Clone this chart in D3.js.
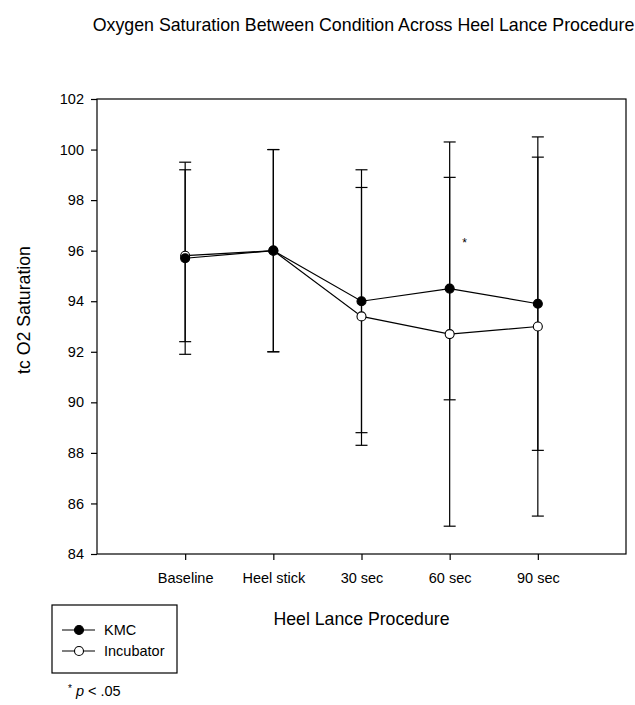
<!DOCTYPE html>
<html><head><meta charset="utf-8">
<script src="https://cdn.jsdelivr.net/npm/d3@7"></script>
<style>
body{margin:0;background:#fff;}
svg text{font-family:"Liberation Sans",Arial,sans-serif;fill:#000;}
</style></head>
<body><svg id="c" width="635" height="705"></svg>
<script>
const categories = ["Baseline","Heel stick","30 sec","60 sec","90 sec"];
const kmcMean = [95.7, 96.0, 94.0, 94.5, 93.9];
const kmcSD   = [3.8, 4.0, 5.2, 4.4, 5.8];
const incMean = [95.8, 96.0, 93.4, 92.7, 93.0];
const incSD   = [3.4, 4.0, 5.1, 7.6, 7.5];
const yTicks = [84,86,88,90,92,94,96,98,100,102];
const sigCategory = "60 sec";

const svg = d3.select("#c");
const L=97, R=626, T=99, B=554;
const x = d3.scalePoint().domain(categories).range([L,R]).padding(1);
const y = d3.scaleLinear().domain([84,102]).range([B,T]);

svg.append("rect").attr("x",L).attr("y",T).attr("width",R-L).attr("height",B-T)
  .attr("fill","none").attr("stroke","#000").attr("stroke-width",1.2);

const yAx = svg.append("g").attr("transform",`translate(${L},0)`)
  .call(d3.axisLeft(y).tickValues(yTicks).tickSize(6).tickPadding(7).tickFormat(d3.format("d")));
yAx.select(".domain").remove();
yAx.selectAll("text").attr("font-size",14.5).attr("font-family","Liberation Sans");
yAx.selectAll("line").attr("stroke-width",1.2);

const xAx = svg.append("g").attr("transform",`translate(0,${B})`)
  .call(d3.axisBottom(x).tickSize(6).tickPadding(13));
xAx.select(".domain").remove();
xAx.selectAll("text").attr("font-size",14.5).attr("font-family","Liberation Sans");
xAx.selectAll("line").attr("stroke-width",1.2);

const series = [
  {name:"KMC", mean:kmcMean, sd:kmcSD, fill:"#000"},
  {name:"Incubator", mean:incMean, sd:incSD, fill:"#fff"}
];
const cap = 6;
series.forEach(s=>{
  const g = svg.append("g");
  categories.forEach((c,i)=>{
    const hi=y(s.mean[i]+s.sd[i]), lo=y(s.mean[i]-s.sd[i]), cx=x(c);
    g.append("line").attr("x1",cx).attr("x2",cx).attr("y1",hi).attr("y2",lo).attr("stroke","#000").attr("stroke-width",1.2);
    g.append("line").attr("x1",cx-cap).attr("x2",cx+cap).attr("y1",hi).attr("y2",hi).attr("stroke","#000").attr("stroke-width",1.2);
    g.append("line").attr("x1",cx-cap).attr("x2",cx+cap).attr("y1",lo).attr("y2",lo).attr("stroke","#000").attr("stroke-width",1.2);
  });
});
const line = d3.line().x((d,i)=>x(categories[i])).y(d=>y(d));
series.forEach(s=>{
  svg.append("path").attr("d",line(s.mean)).attr("fill","none").attr("stroke","#000").attr("stroke-width",1.2);
});
series.slice().reverse().forEach(s=>{
  svg.append("g").selectAll("circle").data(s.mean).join("circle")
    .attr("cx",(d,i)=>x(categories[i])).attr("cy",d=>y(d)).attr("r",4.5)
    .attr("fill",s.fill).attr("stroke","#000").attr("stroke-width",1.1);
});

svg.append("text").attr("x",x(sigCategory)+15).attr("y",y(96.2)+1)
  .attr("text-anchor","middle").attr("font-size",12).text("*");

svg.append("text").attr("x",(L+R)/2+2).attr("y",31).attr("text-anchor","middle")
  .attr("font-size",17.8).text("Oxygen Saturation Between Condition Across Heel Lance Procedure");
svg.append("text").attr("x",(L+R)/2).attr("y",625).attr("text-anchor","middle")
  .attr("font-size",17.7).text("Heel Lance Procedure");
svg.append("text").attr("transform","translate(30,310) rotate(-90)").attr("text-anchor","middle")
  .attr("font-size",17.7).text("tc O2 Saturation");

const lg = svg.append("g");
lg.append("rect").attr("x",52).attr("y",605).attr("width",125).attr("height",68)
  .attr("fill","none").attr("stroke","#000").attr("stroke-width",1.2);
series.forEach((s,i)=>{
  const yy = 630 + i*21;
  lg.append("line").attr("x1",62).attr("x2",95).attr("y1",yy).attr("y2",yy).attr("stroke","#000").attr("stroke-width",1.2);
  lg.append("circle").attr("cx",79).attr("cy",yy).attr("r",4.5).attr("fill",s.fill).attr("stroke","#000").attr("stroke-width",1.1);
  lg.append("text").attr("x",104).attr("y",yy+5).attr("font-size",14.5).text(s.name);
});
const fn = svg.append("text").attr("x",68).attr("y",696).attr("font-size",14.5);
fn.append("tspan").attr("font-size",10).attr("dy",-4).text("*");
fn.append("tspan").attr("dy",4).attr("font-style","italic").text(" p");
fn.append("tspan").text(" < .05");
</script></body></html>
